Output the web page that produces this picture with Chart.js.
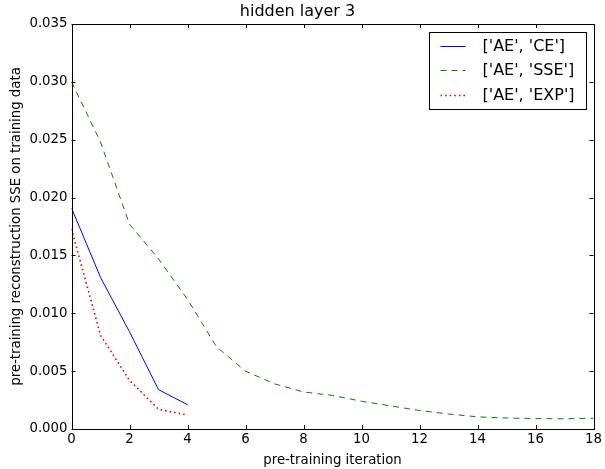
<!DOCTYPE html>
<html>
<head>
<meta charset="utf-8">
<script src="https://cdn.jsdelivr.net/npm/chart.js@4"></script>
<style>
  html, body { margin: 0; padding: 0; background: #fff; }
  #wrap { width: 605px; height: 469px; }
</style>
</head>
<body>
<div id="wrap"><canvas id="c" width="605" height="469"></canvas></div>
<script>
// iterations on the x axis
const iterations = [0, 1, 2, 3, 4, 5, 6, 7, 8, 9, 10, 11, 12, 13, 14, 15, 16, 17, 18];

// pre-training reconstruction SSE per series
const aeCE = [0.0191, 0.0131, 0.0084, 0.0034, 0.0021];
const aeSSE = [0.0300, 0.0248, 0.0177, 0.0147, 0.0112, 0.0071, 0.0050, 0.0039, 0.0032,
  0.0029, 0.0024, 0.0020, 0.0016, 0.0013, 0.00105, 0.00095, 0.0009, 0.00088, 0.00093];
const aeEXP = [0.0173, 0.0081, 0.0042, 0.0017, 0.0012];

const seriesNames = ["['AE', 'CE']", "['AE', 'SSE']", "['AE', 'EXP']"];
const xTicks = [0, 2, 4, 6, 8, 10, 12, 14, 16, 18];
const yTicks = [0, 0.005, 0.010, 0.015, 0.020, 0.025, 0.030, 0.035];

const FONT = "'DejaVu Sans', sans-serif";

function pts(vals) {
  return vals.map((v, i) => ({ x: iterations[i], y: v }));
}

// frame, inward ticks on all four sides, and the boxed legend (matplotlib classic look)
const framePlugin = {
  id: "frame",
  afterDraw(chart) {
    const ctx = chart.ctx;
    const a = chart.chartArea;
    const xs = chart.scales.x, ys = chart.scales.y;
    ctx.save();
    ctx.strokeStyle = "#000";
    ctx.lineWidth = 1;
    ctx.strokeRect(Math.round(a.left) + 0.5, Math.round(a.top) + 0.5,
      Math.round(a.right - a.left), Math.round(a.bottom - a.top));
    ctx.beginPath();
    xTicks.forEach(t => {
      const px = Math.round(xs.getPixelForValue(t)) + 0.5;
      ctx.moveTo(px, a.bottom); ctx.lineTo(px, a.bottom - 4);
      ctx.moveTo(px, a.top); ctx.lineTo(px, a.top + 4);
    });
    yTicks.forEach(t => {
      const py = Math.round(ys.getPixelForValue(t)) + 0.5;
      ctx.moveTo(a.left, py); ctx.lineTo(a.left + 4, py);
      ctx.moveTo(a.right, py); ctx.lineTo(a.right - 4, py);
    });
    ctx.stroke();

    // legend
    const bx = Math.round(a.right) - 164.5, by = Math.round(a.top) + 8.5;
    const bw = 157, bh = 77;
    ctx.fillStyle = "#fff";
    ctx.fillRect(bx, by, bw, bh);
    ctx.strokeRect(bx, by, bw, bh);
    ctx.font = "16px " + FONT;
    ctx.textBaseline = "middle";
    chart.data.datasets.forEach((ds, i) => {
      const cy = Math.round(by + 13 + i * 24.6) + 0.5;
      ctx.beginPath();
      ctx.strokeStyle = ds.borderColor;
      ctx.lineWidth = ds.borderWidth;
      ctx.setLineDash(ds.borderDash || []);
      ctx.moveTo(bx + 11, cy); ctx.lineTo(bx + 36, cy);
      ctx.stroke();
      ctx.setLineDash([]);
      ctx.fillStyle = "#000";
      ctx.fillText(ds.label, bx + 53, cy);
    });
    ctx.restore();
  }
};

new Chart(document.getElementById("c"), {
  type: "line",
  data: {
    datasets: [
      { label: seriesNames[0], data: pts(aeCE), borderColor: "#0000ff", borderWidth: 1 },
      { label: seriesNames[1], data: pts(aeSSE), borderColor: "#008000", borderWidth: 1, borderDash: [6, 5] },
      { label: seriesNames[2], data: pts(aeEXP), borderColor: "#ff0000", borderWidth: 1.6, borderDash: [1.6, 3] }
    ]
  },
  options: {
    responsive: false,
    animation: false,
    layout: { padding: { left: 0, right: 10, top: 0, bottom: 0 } },
    elements: { point: { radius: 0 }, line: { tension: 0 } },
    plugins: {
      legend: { display: false },
      tooltip: { enabled: false },
      title: {
        display: true,
        text: "hidden layer 3",
        color: "#000",
        font: { family: FONT, size: 16, weight: "normal", lineHeight: 1.2 },
        padding: { top: 2, bottom: 2.8 }
      }
    },
    scales: {
      x: {
        type: "linear",
        min: 0, max: 18,
        afterBuildTicks: s => { s.ticks = xTicks.map(v => ({ value: v })); },
        afterFit: s => { s.height = 40; },
        grid: { display: false, drawTicks: false },
        border: { display: false },
        ticks: { color: "#000", padding: 3, maxRotation: 0, font: { family: FONT, size: 13.3 } },
        title: {
          display: true, text: "pre-training iteration", color: "#000",
          font: { family: FONT, size: 13.3 }, padding: { top: 1, bottom: 0 }
        }
      },
      y: {
        min: 0, max: 0.035,
        afterBuildTicks: s => { s.ticks = yTicks.map(v => ({ value: v })); },
        afterFit: s => { s.width = 71.5; },
        grid: { display: false, drawTicks: false },
        border: { display: false },
        ticks: {
          color: "#000", padding: 4, font: { family: FONT, size: 13.3 },
          callback: v => v.toFixed(3)
        },
        title: {
          display: true, text: "pre-training reconstruction SSE on training data", color: "#000",
          font: { family: FONT, size: 13.3 }, padding: { top: 9, bottom: 0 }
        }
      }
    }
  },
  plugins: [framePlugin]
});
</script>
</body>
</html>
